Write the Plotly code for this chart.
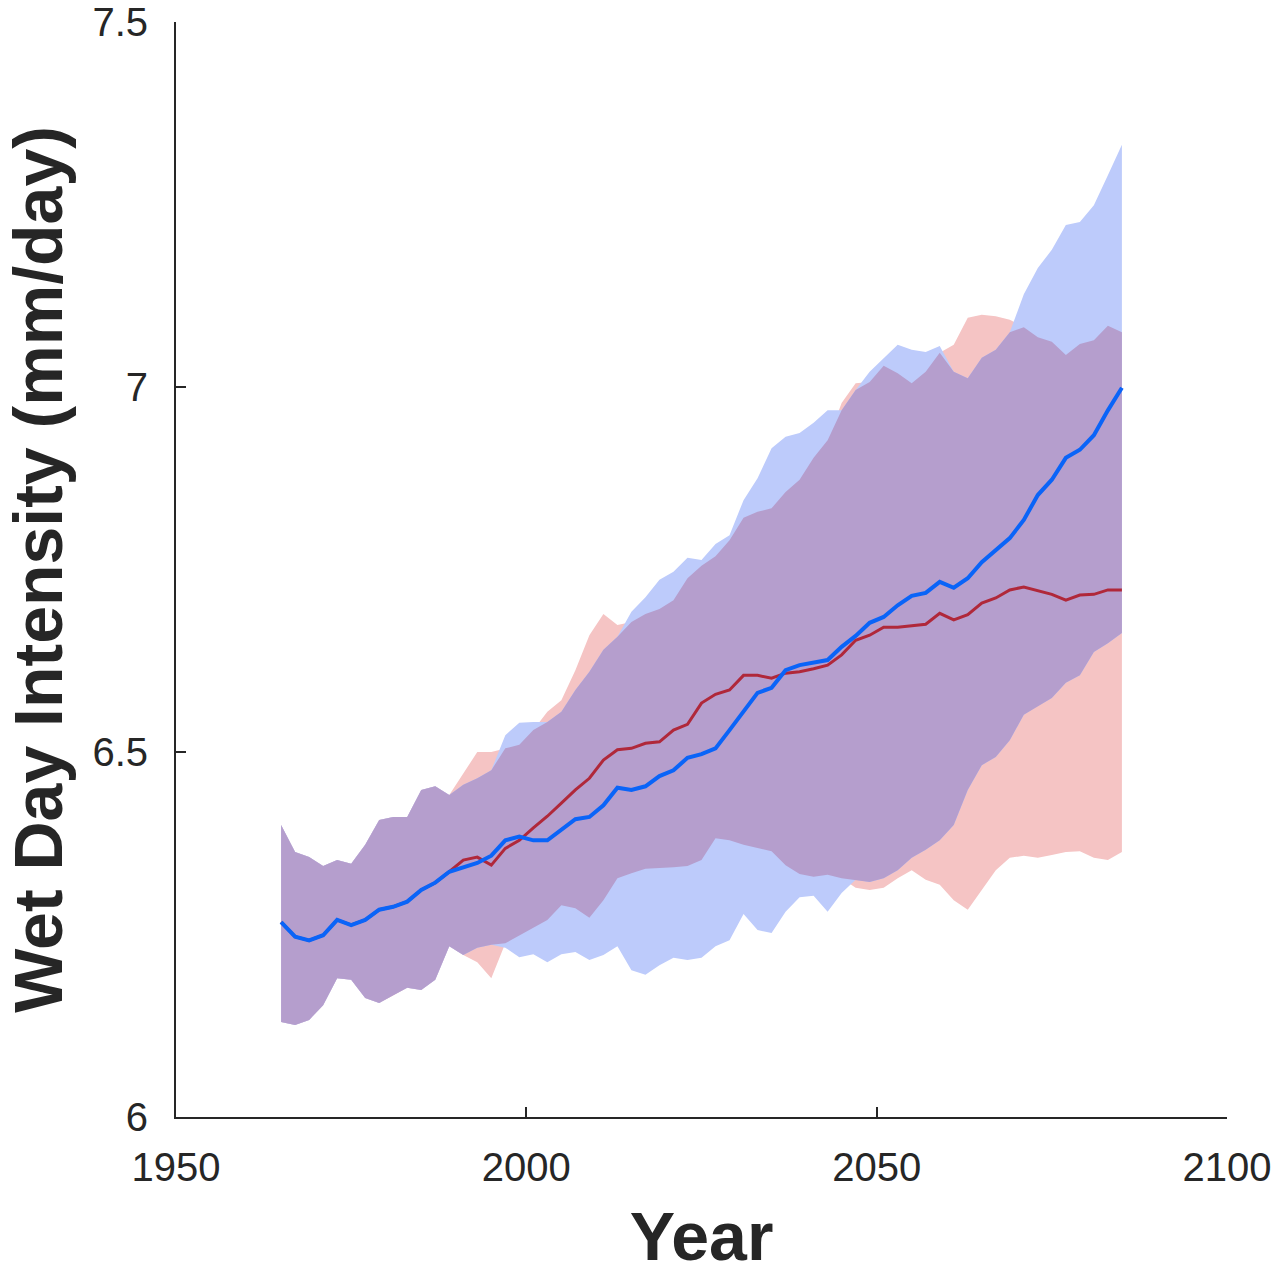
import numpy as np
import plotly.graph_objects as go

years = list(range(1965, 2086, 2))

blue_mean = [6.267, 6.247, 6.242, 6.249, 6.270, 6.263, 6.270, 6.284, 6.288, 6.295,
             6.311, 6.321, 6.336, 6.342, 6.348, 6.358, 6.379, 6.384, 6.379, 6.379,
             6.393, 6.408, 6.411, 6.427, 6.451, 6.448, 6.453, 6.467, 6.475, 6.492,
             6.497, 6.505, 6.530, 6.555, 6.581, 6.588, 6.612, 6.619, 6.623, 6.626,
             6.644, 6.659, 6.677, 6.685, 6.701, 6.714, 6.718, 6.733, 6.725, 6.738,
             6.760, 6.777, 6.793, 6.818, 6.852, 6.873, 6.903, 6.914, 6.934, 6.968,
             6.999]

red_mean = [6.267, 6.247, 6.242, 6.249, 6.270, 6.263, 6.270, 6.284, 6.288, 6.295,
            6.311, 6.321, 6.336, 6.352, 6.356, 6.345, 6.368, 6.379, 6.396, 6.412,
            6.430, 6.448, 6.464, 6.489, 6.503, 6.505, 6.512, 6.514, 6.530, 6.538,
            6.567, 6.579, 6.585, 6.605, 6.605, 6.601, 6.608, 6.610, 6.614, 6.619,
            6.633, 6.653, 6.660, 6.671, 6.671, 6.673, 6.675, 6.690, 6.681, 6.688,
            6.704, 6.711, 6.722, 6.726, 6.721, 6.716, 6.708, 6.715, 6.716, 6.722,
            6.722]

red_upper = [6.400, 6.363, 6.356, 6.344, 6.352, 6.347, 6.373, 6.407, 6.411, 6.411,
             6.448, 6.453, 6.441, 6.471, 6.500, 6.500, 6.505, 6.510, 6.530, 6.555,
             6.571, 6.612, 6.660, 6.689, 6.674, 6.678, 6.689, 6.696, 6.708, 6.738,
             6.755, 6.768, 6.790, 6.821, 6.829, 6.834, 6.856, 6.873, 6.903, 6.927,
             6.978, 7.005, 7.007, 7.029, 7.019, 7.005, 7.021, 7.047, 7.058, 7.095,
             7.099, 7.097, 7.092, 7.082, 7.068, 7.062, 7.044, 7.059, 7.064, 7.084,
             7.075]

blue_upper = [6.400, 6.363, 6.356, 6.344, 6.352, 6.347, 6.373, 6.407, 6.411, 6.411,
              6.448, 6.453, 6.441, 6.455, 6.464, 6.475, 6.523, 6.540, 6.541, 6.541,
              6.555, 6.585, 6.610, 6.640, 6.658, 6.692, 6.712, 6.736, 6.747, 6.766,
              6.763, 6.785, 6.797, 6.845, 6.875, 6.916, 6.932, 6.937, 6.951, 6.968,
              6.968, 6.996, 7.021, 7.040, 7.058, 7.051, 7.048, 7.056, 7.021, 7.012,
              7.040, 7.051, 7.075, 7.127, 7.163, 7.188, 7.222, 7.226, 7.249, 7.290,
              7.332]

red_lower = [6.130, 6.126, 6.133, 6.153, 6.190, 6.188, 6.163, 6.156, 6.167, 6.177,
             6.174, 6.188, 6.234, 6.222, 6.212, 6.190, 6.238, 6.249, 6.259, 6.270,
             6.290, 6.286, 6.273, 6.297, 6.327, 6.334, 6.340, 6.341, 6.342, 6.344,
             6.352, 6.382, 6.379, 6.373, 6.368, 6.364, 6.345, 6.333, 6.329, 6.332,
             6.327, 6.314, 6.311, 6.314, 6.327, 6.338, 6.325, 6.318, 6.297, 6.284,
             6.311, 6.338, 6.355, 6.358, 6.355, 6.359, 6.363, 6.364, 6.355, 6.352,
             6.363]

blue_lower = [6.130, 6.126, 6.133, 6.153, 6.190, 6.188, 6.163, 6.156, 6.167, 6.177,
              6.174, 6.188, 6.234, 6.222, 6.232, 6.236, 6.232, 6.219, 6.223, 6.212,
              6.223, 6.226, 6.215, 6.222, 6.234, 6.201, 6.195, 6.208, 6.218, 6.215,
              6.218, 6.234, 6.242, 6.278, 6.256, 6.252, 6.281, 6.301, 6.303, 6.281,
              6.307, 6.325, 6.322, 6.327, 6.338, 6.355, 6.366, 6.379, 6.400, 6.448,
              6.482, 6.493, 6.516, 6.551, 6.563, 6.574, 6.595, 6.605, 6.637, 6.649,
              6.663]

x_ticks = [1950, 2000, 2050, 2100]
y_ticks = [6, 6.5, 7, 7.5]
y_tick_text = ["6", "6.5", "7", "7.5"]

PINK = "#f5c4c4"
LIGHTBLUE = "#bdcbfb"
PURPLE = "#b59ecd"
RED_LINE = "#b0283a"
BLUE_LINE = "#0a64f8"
AXIS = "#262626"
FONT = "Liberation Sans, Arial, Helvetica, sans-serif"


def band(lo, hi, color):
    xs = list(years) + list(years)[::-1]
    ys = list(hi) + list(lo)[::-1]
    return go.Scatter(x=xs, y=ys, fill="toself", fillcolor=color, mode="lines",
                      line=dict(width=0, color=color), hoverinfo="skip", showlegend=False)


inter_hi = np.minimum(np.array(red_upper), np.array(blue_upper))
inter_lo = np.maximum(np.array(red_lower), np.array(blue_lower))

fig = go.Figure()
fig.add_trace(band(red_lower, red_upper, PINK))
fig.add_trace(band(blue_lower, blue_upper, LIGHTBLUE))
fig.add_trace(band(inter_lo, inter_hi, PURPLE))
fig.add_trace(go.Scatter(x=years, y=red_mean, mode="lines",
                         line=dict(color=RED_LINE, width=3), showlegend=False))
fig.add_trace(go.Scatter(x=years, y=blue_mean, mode="lines",
                         line=dict(color=BLUE_LINE, width=4), showlegend=False))

fig.update_layout(
    width=1282, height=1274,
    margin=dict(l=176, r=55, t=22, b=157, autoexpand=False),
    paper_bgcolor="white", plot_bgcolor="white",
    font=dict(family=FONT, color=AXIS),
    showlegend=False,
)
fig.update_xaxes(
    range=[1950, 2100], tickvals=x_ticks, ticktext=[str(v) for v in x_ticks],
    showgrid=False, zeroline=False, showline=True, linecolor=AXIS, linewidth=2,
    ticks="inside", ticklen=10, tickwidth=2, tickcolor=AXIS, automargin=False,
    tickfont=dict(size=40, color=AXIS, family=FONT), ticklabelstandoff=14,
    title=dict(text="<b>Year</b>", font=dict(size=68, color=AXIS, family=FONT), standoff=33),
)
fig.update_yaxes(
    range=[6, 7.5], tickvals=y_ticks, ticktext=y_tick_text,
    showgrid=False, zeroline=False, showline=True, linecolor=AXIS, linewidth=2,
    ticks="inside", ticklen=10, tickwidth=2, tickcolor=AXIS, automargin=False,
    tickfont=dict(size=40, color=AXIS, family=FONT), ticklabelstandoff=18,
    title=dict(text="<b>Wet Day Intensity (mm/day)</b>", font=dict(size=68, color=AXIS, family=FONT), standoff=15),
)

fig.write_html("out.html")
